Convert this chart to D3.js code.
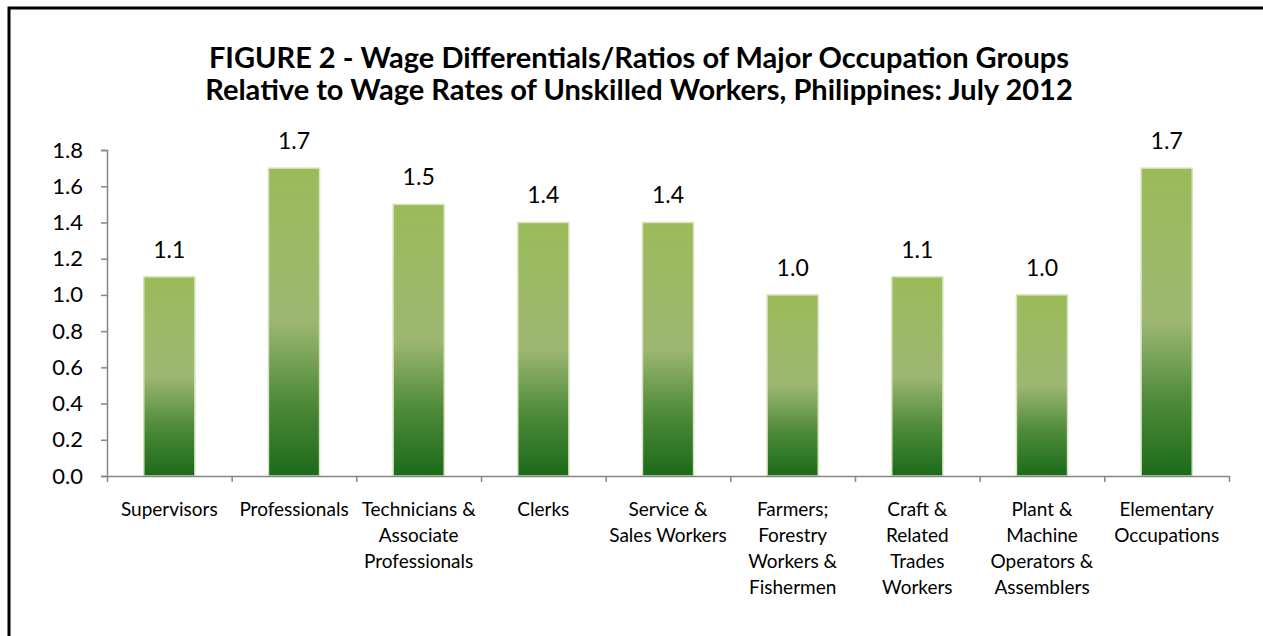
<!DOCTYPE html>
<html>
<head>
<meta charset="utf-8">
<script src="https://cdn.jsdelivr.net/npm/d3@7"></script>
<style>
  html, body { margin: 0; padding: 0; background: #fff; }
  svg { display: block; font-family: Lato, "Open Sans", sans-serif; }
</style>
</head>
<body>
<div id="chart"></div>
<script>
// données
const categories = [
  "Supervisors", "Professionals", "Technicians & Associate Professionals", "Clerks",
  "Service & Sales Workers", "Farmers; Forestry Workers & Fishermen",
  "Craft & Related Trades Workers", "Plant & Machine Operators & Assemblers",
  "Elementary Occupations"
];
const categoryLines = [
  ["Supervisors"],
  ["Professionals"],
  ["Technicians &", "Associate", "Professionals"],
  ["Clerks"],
  ["Service &", "Sales Workers"],
  ["Farmers;", "Forestry", "Workers &", "Fishermen"],
  ["Craft &", "Related", "Trades", "Workers"],
  ["Plant &", "Machine", "Operators &", "Assemblers"],
  ["Elementary", "Occupations"]
];
const ratios = [1.1, 1.7, 1.5, 1.4, 1.4, 1.0, 1.1, 1.0, 1.7];
const yTicks = [0, 0.2, 0.4, 0.6, 0.8, 1.0, 1.2, 1.4, 1.6, 1.8];
const titleLines = [
  "FIGURE 2 - Wage Differentials/Ratios of Major Occupation Groups",
  "Relative to Wage Rates of Unskilled Workers, Philippines: July 2012"
];

const W = 1263, H = 636;
const plot = { left: 107, right: 1229, top: 150, bottom: 476 };

const svg = d3.select("#chart").append("svg")
  .attr("width", W).attr("height", H);

// cadre noir
svg.append("rect")
  .attr("x", 9).attr("y", 8)
  .attr("width", W + 20).attr("height", H + 20)
  .attr("fill", "#fff").attr("stroke", "#000").attr("stroke-width", 3);

// dégradé des barres
const grad = svg.append("defs").append("linearGradient")
  .attr("id", "barGrad").attr("x1", 0).attr("y1", 0).attr("x2", 0).attr("y2", 1);
[[0, "#9bbb59"], [0.5, "#9db772"], [0.75, "#4f8b3a"], [1, "#1a6b1a"]].forEach(s => {
  grad.append("stop").attr("offset", s[0]).attr("stop-color", s[1]);
});

// titre
svg.append("g").selectAll("text")
  .data(titleLines)
  .join("text")
  .attr("x", 639)
  .attr("y", (d, i) => 68 + i * 32)
  .attr("text-anchor", "middle")
  .attr("font-size", "29px")
  .attr("font-weight", "bold")
  .attr("fill", "#000")
  .text(d => d);

// échelles
const x = d3.scaleBand().domain(categories).range([plot.left, plot.right]);
const xIdx = d3.scaleLinear().domain([0, categories.length]).range([plot.left, plot.right]);
const y = d3.scaleLinear().domain([0, 1.8]).range([plot.bottom, plot.top]);

// axe Y
svg.append("g")
  .attr("transform", `translate(${plot.left},0)`)
  .call(d3.axisLeft(y).tickValues(yTicks).tickFormat(d3.format(".1f")).tickSizeInner(6).tickSizeOuter(6).tickPadding(18))
  .call(g => g.selectAll("path, line").attr("stroke", "#868686").attr("stroke-width", 1.5))
  .call(g => g.selectAll("text").attr("font-size", "22px").attr("fill", "#000").attr("font-family", "Lato, sans-serif"));

// barres
const barW = x.bandwidth() * 0.41;
svg.append("g").selectAll("rect")
  .data(ratios)
  .join("rect")
  .attr("x", (d, i) => x(categories[i]) + (x.bandwidth() - barW) / 2)
  .attr("y", d => y(d))
  .attr("width", barW)
  .attr("height", d => y(0) - y(d))
  .attr("fill", "url(#barGrad)")
  .attr("stroke", "#d7e4bd")
  .attr("stroke-width", 1.5);

// étiquettes de valeurs
svg.append("g").selectAll("text")
  .data(ratios)
  .join("text")
  .attr("x", (d, i) => x(categories[i]) + x.bandwidth() / 2)
  .attr("y", d => y(d) - 19)
  .attr("text-anchor", "middle")
  .attr("font-size", "23px")
  .attr("fill", "#000")
  .text(d => d3.format(".1f")(d));

// axe X
svg.append("g")
  .attr("transform", `translate(0,${plot.bottom})`)
  .call(d3.axisBottom(xIdx).tickValues(d3.range(categories.length + 1)).tickFormat("").tickSizeInner(6).tickSizeOuter(0))
  .call(g => g.selectAll("path, line").attr("stroke", "#868686").attr("stroke-width", 1.5));

// libellés des catégories
const labels = svg.append("g").selectAll("text")
  .data(categoryLines)
  .join("text")
  .attr("text-anchor", "middle")
  .attr("font-size", "19px")
  .attr("fill", "#000");
labels.selectAll("tspan")
  .data((d, i) => d.map(line => ({ line, i })))
  .join("tspan")
  .attr("x", d => x(categories[d.i]) + x.bandwidth() / 2)
  .attr("y", (d, j) => plot.bottom + 40 + j * 26)
  .text(d => d.line);
</script>
</body>
</html>
